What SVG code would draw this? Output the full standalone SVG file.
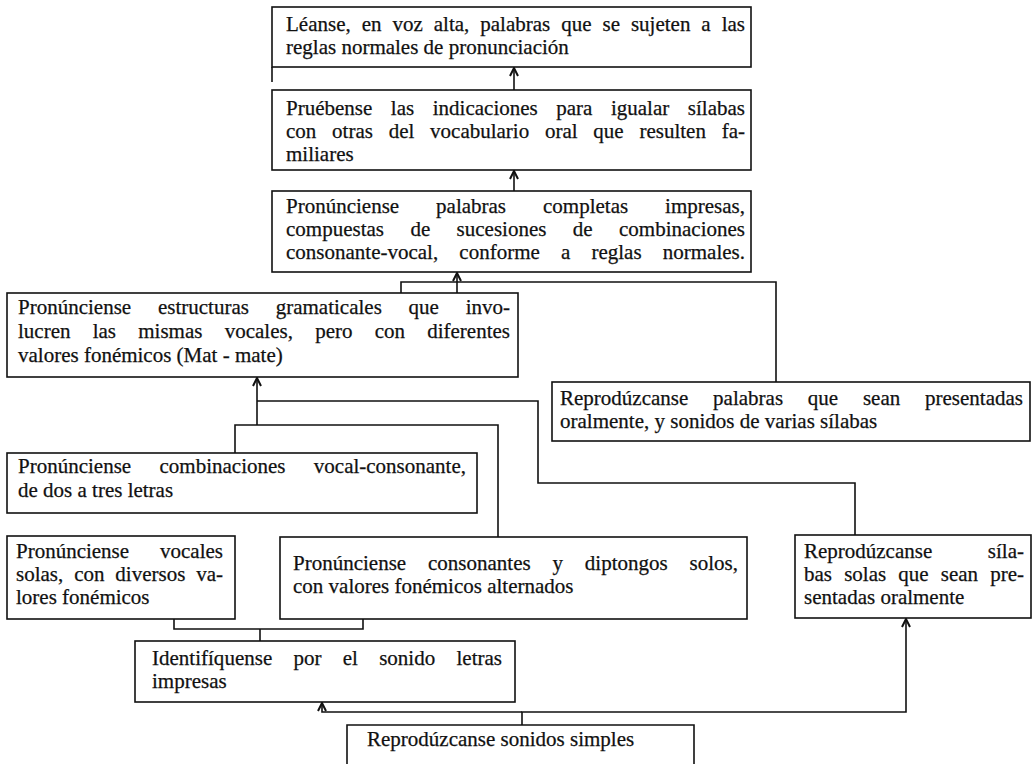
<svg xmlns="http://www.w3.org/2000/svg" width="1034" height="764" viewBox="0 0 1034 764">
<defs>
<style>
.box{fill:#fff;stroke:#111;stroke-width:1.6}
.t{font-family:"Liberation Serif","Times New Roman",serif;font-size:21px;fill:#111;stroke:#111;stroke-width:0.25}
.c{fill:none;stroke:#111;stroke-width:1.6}
</style>
<marker id="ah" viewBox="0 0 10 10" refX="9" refY="5" markerWidth="10" markerHeight="10" orient="auto" markerUnits="userSpaceOnUse">
<path d="M1,1 L9,5 L1,9" fill="none" stroke="#111" stroke-width="2"/>
</marker>
</defs>
<rect width="1034" height="764" fill="#fff"/>
<g id="connectors">
<line class="c" x1="272" y1="67" x2="272" y2="82"/>
<line class="c" x1="514" y1="90" x2="514" y2="68" marker-end="url(#ah)"/>
<line class="c" x1="514" y1="191" x2="514" y2="171" marker-end="url(#ah)"/>
<line class="c" x1="457" y1="293" x2="457" y2="273" marker-end="url(#ah)"/>
<polyline class="c" points="401,293 401,282 776,282 776,382"/>
<line class="c" x1="257" y1="425" x2="257" y2="378" marker-end="url(#ah)"/>
<polyline class="c" points="257,401 538,401 538,483 855,483 855,535"/>
<polyline class="c" points="235,453 235,425 498,425 498,537"/>
<polyline class="c" points="174,619 174,629 363,629 363,619"/>
<line class="c" x1="260" y1="629" x2="260" y2="641"/>
<polyline class="c" points="522,725 522,712 906,712 906,619" marker-end="url(#ah)"/>
<polyline class="c" points="522,712 322,712 322,703" marker-end="url(#ah)"/>
</g>
<g id="n1">
<rect class="box" x="272" y="7" width="479" height="60"/>
<text class="t" x="286" y="31" style="word-spacing:5.7px" textLength="459">Léanse, en voz alta, palabras que se sujeten a las</text>
<text class="t" x="286" y="54">reglas normales de pronunciación</text>
</g>
<g id="n2">
<rect class="box" x="272" y="90" width="479" height="80"/>
<text class="t" x="286" y="115" style="word-spacing:13.3px" textLength="459">Pruébense las indicaciones para igualar sílabas</text>
<text class="t" x="286" y="138" style="word-spacing:10.5px" textLength="459">con otras del vocabulario oral que resulten fa-</text>
<text class="t" x="286" y="161">miliares</text>
</g>
<g id="n3">
<rect class="box" x="272" y="191" width="479" height="81"/>
<text class="t" x="286" y="213" style="word-spacing:31.7px" textLength="459">Pronúnciense palabras completas impresas,</text>
<text class="t" x="286" y="236" style="word-spacing:21.1px" textLength="459">compuestas de sucesiones de combinaciones</text>
<text class="t" x="286" y="259" style="word-spacing:15.9px" textLength="459">consonante-vocal, conforme a reglas normales.</text>
</g>
<g id="n4">
<rect class="box" x="7" y="293" width="511" height="84"/>
<text class="t" x="18" y="314" style="word-spacing:21.5px" textLength="492">Pronúnciense estructuras gramaticales que invo-</text>
<text class="t" x="18" y="338" style="word-spacing:17px" textLength="492">lucren las mismas vocales, pero con diferentes</text>
<text class="t" x="18" y="362">valores fonémicos (Mat - mate)</text>
</g>
<g id="n5">
<rect class="box" x="552" y="382" width="478" height="59"/>
<text class="t" x="560" y="405" style="word-spacing:19.5px" textLength="463">Reprodúzcanse palabras que sean presentadas</text>
<text class="t" x="560" y="428">oralmente, y sonidos de varias sílabas</text>
</g>
<g id="n6">
<rect class="box" x="7" y="453" width="470" height="60"/>
<text class="t" x="18" y="473" style="word-spacing:23.1px" textLength="448">Pronúnciense combinaciones vocal-consonante,</text>
<text class="t" x="18" y="497">de dos a tres letras</text>
</g>
<g id="n7">
<rect class="box" x="7" y="536" width="228" height="83"/>
<text class="t" x="16" y="558" style="word-spacing:25.7px" textLength="207">Pronúnciense vocales</text>
<text class="t" x="16" y="581" style="word-spacing:5.6px" textLength="207">solas, con diversos va-</text>
<text class="t" x="16" y="604">lores fonémicos</text>
</g>
<g id="n8">
<rect class="box" x="280" y="537" width="467" height="82"/>
<text class="t" x="293" y="570" style="word-spacing:16.6px" textLength="445">Pronúnciense consonantes y diptongos solos,</text>
<text class="t" x="293" y="593">con valores fonémicos alternados</text>
</g>
<g id="n9">
<rect class="box" x="795" y="535" width="236" height="83"/>
<text class="t" x="804" y="558" style="word-spacing:50.3px" textLength="220">Reprodúzcanse síla-</text>
<text class="t" x="804" y="581" style="word-spacing:6.9px" textLength="220">bas solas que sean pre-</text>
<text class="t" x="804" y="604">sentadas oralmente</text>
</g>
<g id="n10">
<rect class="box" x="135" y="641" width="380" height="61"/>
<text class="t" x="152" y="665" style="word-spacing:16px" textLength="350">Identifíquense por el sonido letras</text>
<text class="t" x="152" y="688">impresas</text>
</g>
<g id="n11">
<path class="box" d="M347,770 L347,725 L694,725 L694,770"/>
<text class="t" x="367" y="746">Reprodúzcanse sonidos simples</text>
</g>
</svg>
